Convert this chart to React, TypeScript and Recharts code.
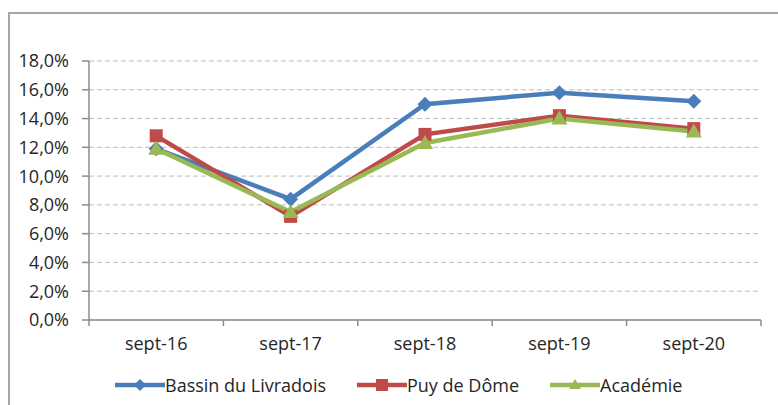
import React from 'react';
import { LineChart, Line, XAxis, YAxis, CartesianGrid } from 'recharts';

const categories = ['sept-16', 'sept-17', 'sept-18', 'sept-19', 'sept-20'];
const bassin = [11.9, 8.4, 15.0, 15.8, 15.2];
const puy = [12.8, 7.2, 12.9, 14.2, 13.3];
const academie = [11.9, 7.5, 12.3, 14.0, 13.1];
const yTicks = [0, 2, 4, 6, 8, 10, 12, 14, 16, 18];

const seriesNames = ['Bassin du Livradois', 'Puy de Dôme', 'Académie'];
const colors = ['#4A7EBB', '#BE4B48', '#98B954'];

const data = categories.map((c, i) => ({
  cat: c,
  bassin: bassin[i],
  puy: puy[i],
  academie: academie[i],
}));

const FONT = 'Open Sans, "Noto Sans", sans-serif';
const TEXT = '#262626';
const AXIS = '#8C8C8C';

const Diamond = (props: any) => {
  const { cx, cy, key } = props;
  if (cx == null || cy == null) return null;
  const r = 7.5;
  return (
    <path key={key} d={`M${cx},${cy - r}L${cx + r},${cy}L${cx},${cy + r}L${cx - r},${cy}Z`} fill={colors[0]} />
  );
};
const Square = (props: any) => {
  const { cx, cy, key } = props;
  if (cx == null || cy == null) return null;
  const r = 6.5;
  return <rect key={key} x={cx - r} y={cy - r} width={2 * r} height={2 * r} fill={colors[1]} />;
};
const Triangle = (props: any) => {
  const { cx, cy, key } = props;
  if (cx == null || cy == null) return null;
  const r = 8;
  return (
    <path key={key} d={`M${cx},${cy - r}L${cx + r},${cy + r * 0.75}L${cx - r},${cy + r * 0.75}Z`} fill={colors[2]} />
  );
};

const CatTick = (props: any) => {
  const { x, y, payload, index, visibleTicksCount } = props;
  const half = payload && payload.offset != null ? payload.offset : 0;
  const count = visibleTicksCount != null ? visibleTicksCount : categories.length;
  return (
    <g>
      <line x1={x - half} y1={y} x2={x - half} y2={y + 6} stroke={AXIS} strokeWidth={1.5} />
      {index === count - 1 && (
        <line x1={x + half} y1={y} x2={x + half} y2={y + 6} stroke={AXIS} strokeWidth={1.5} />
      )}
      <text x={x} y={y} dy={30} textAnchor="middle" fontSize={18} fill={TEXT} fontFamily={FONT}>
        {payload.value}
      </text>
    </g>
  );
};

const fmtY = (v: number) => `${v.toFixed(1).replace('.', ',')}%`;

const LegendIcon = ({ i }: { i: number }) => {
  const c = colors[i];
  return (
    <svg width={50} height={16} style={{ display: 'block' }}>
      <line x1={0} y1={8} x2={50} y2={8} stroke={c} strokeWidth={4.5} />
      {i === 0 && <path d="M25,2L31,8L25,14L19,8Z" fill={c} />}
      {i === 1 && <rect x={19} y={2} width={12} height={12} fill={c} />}
      {i === 2 && <path d="M25,2L31,12L19,12Z" fill={c} />}
    </svg>
  );
};

const legendPos = [115, 357, 550];

export default function App() {
  return (
    <div style={{ position: 'absolute', left: 0, top: 0, width: 778, height: 405, overflow: 'hidden', background: '#fff' }}>
      <div
        style={{
          position: 'absolute',
          left: 8,
          top: 12,
          width: 900,
          height: 600,
          border: '2px solid #A6A6A6',
          boxSizing: 'border-box',
        }}
      />
      <div style={{ position: 'absolute', left: 0, top: 0 }}>
        <LineChart width={778} height={405} data={data} margin={{ top: 61, right: 17, bottom: 55, left: 0 }}>
          <CartesianGrid vertical={false} stroke="#BDBDBD" strokeDasharray="5 3" />
          <XAxis
            dataKey="cat"
            height={30}
            scale="band"
            axisLine={{ stroke: AXIS, strokeWidth: 1.5 }}
            tickLine={false}
            tickSize={0}
            tickMargin={0}
            interval={0}
            tick={<CatTick />}
          />
          <YAxis
            width={89}
            domain={[0, 18]}
            ticks={yTicks}
            interval={0}
            tickFormatter={fmtY}
            axisLine={{ stroke: AXIS, strokeWidth: 1.5 }}
            tickLine={{ stroke: AXIS, strokeWidth: 1.5 }}
            tickSize={7}
            tick={{ fontSize: 18, fill: TEXT, fontFamily: FONT, dx: -11 }}
          />
          <Line dataKey="bassin" stroke={colors[0]} strokeWidth={4.5} dot={Diamond} isAnimationActive={false} />
          <Line dataKey="puy" stroke={colors[1]} strokeWidth={4.5} dot={Square} isAnimationActive={false} />
          <Line dataKey="academie" stroke={colors[2]} strokeWidth={4.5} dot={Triangle} isAnimationActive={false} />
        </LineChart>
      </div>
      {seriesNames.map((n, i) => (
        <div
          key={n}
          style={{
            position: 'absolute',
            left: legendPos[i],
            top: 372,
            height: 26,
            display: 'flex',
            alignItems: 'center',
            fontFamily: FONT,
            fontSize: 18,
            color: TEXT,
            whiteSpace: 'nowrap',
          }}
        >
          <LegendIcon i={i} />
          <span>{n}</span>
        </div>
      ))}
    </div>
  );
}
